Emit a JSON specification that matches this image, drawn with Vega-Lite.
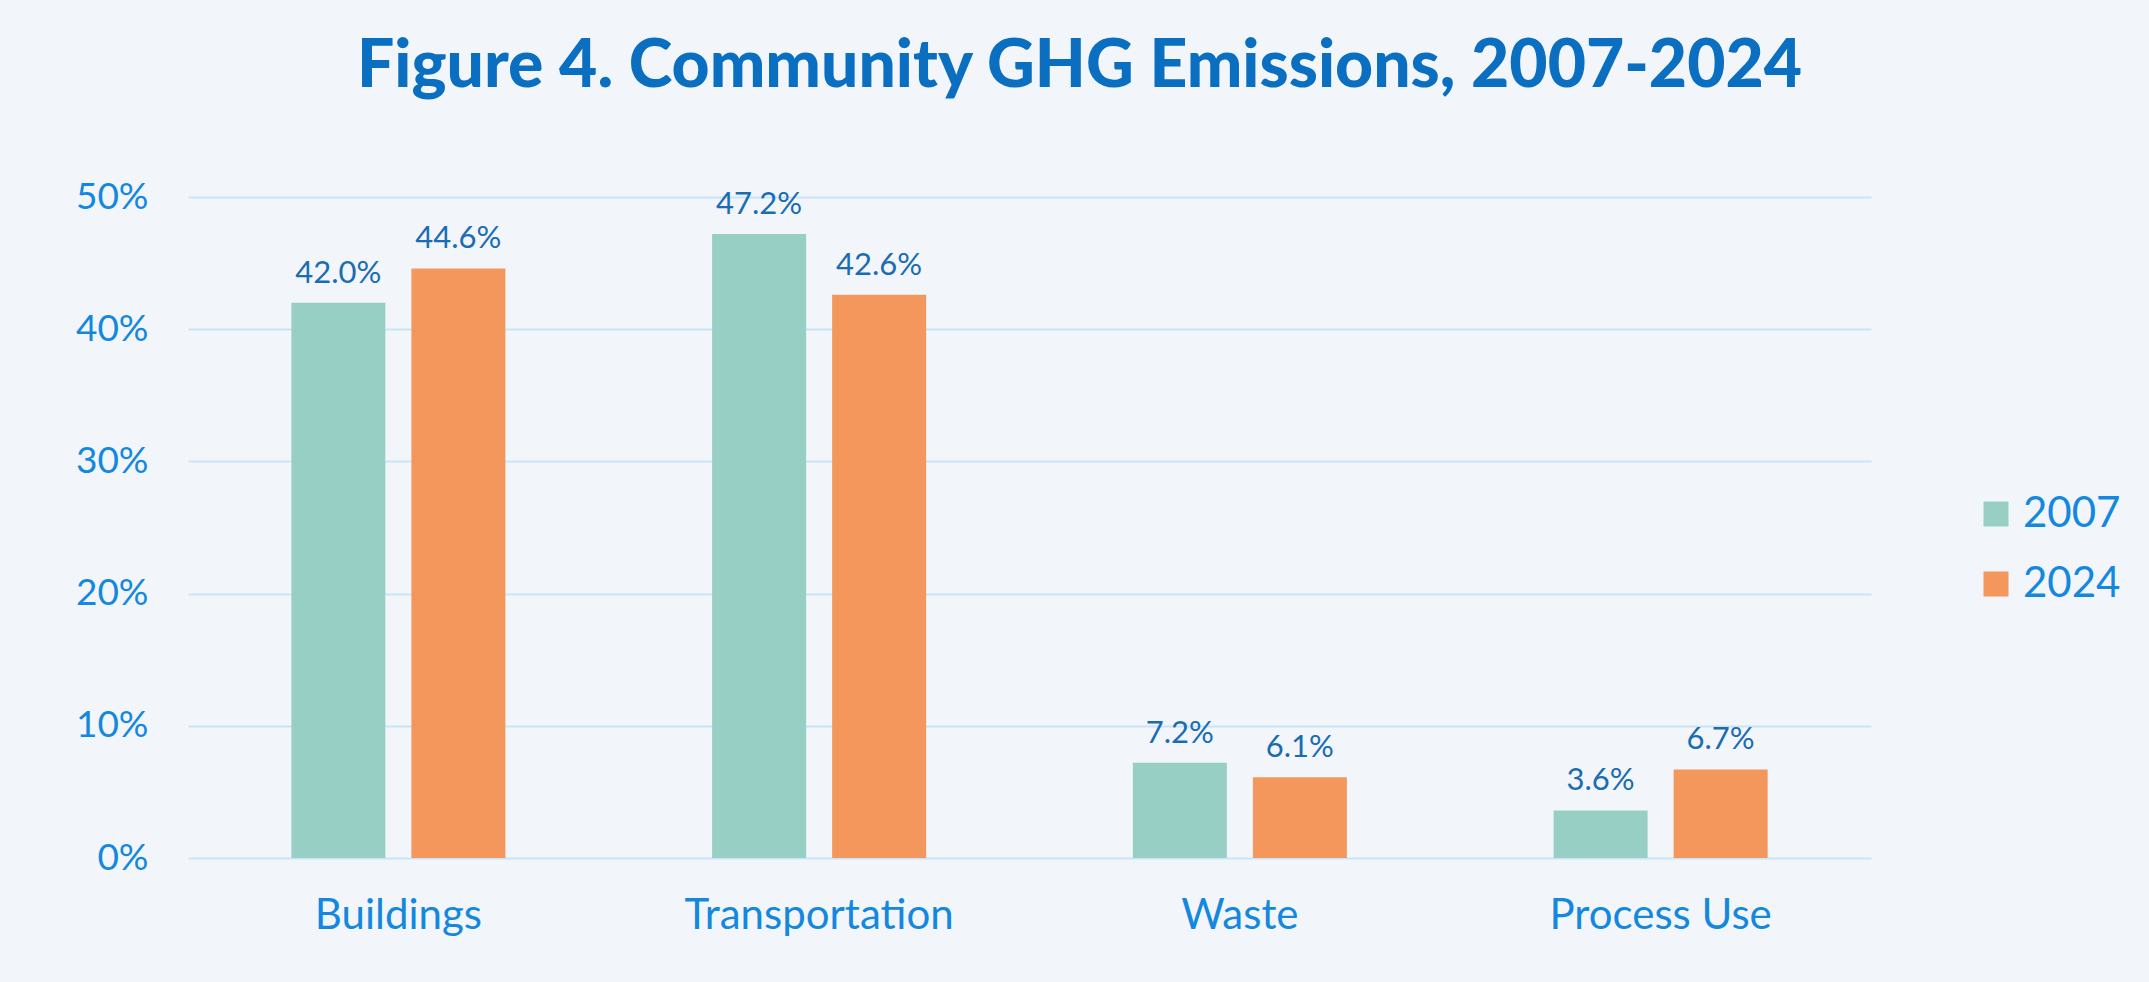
{
  "$schema": "https://vega.github.io/schema/vega-lite/v6.json",
  "width": 1683,
  "height": 661,
  "autosize": {"type": "none"},
  "padding": {"left": 188, "top": 197, "right": 278, "bottom": 124},
  "background": "#F2F6FB",
  "title": {
    "text": "Figure 4. Community GHG Emissions, 2007-2024",
    "font": "Lato",
    "fontSize": 66,
    "fontWeight": 900,
    "color": "#0B6FC1",
    "anchor": "middle",
    "dx": 50,
    "offset": 77
  },
  "data": {
    "values": [
      {"sector": "Buildings", "year": "2007", "share": 0.420},
      {"sector": "Buildings", "year": "2024", "share": 0.446},
      {"sector": "Transportation", "year": "2007", "share": 0.472},
      {"sector": "Transportation", "year": "2024", "share": 0.426},
      {"sector": "Waste", "year": "2007", "share": 0.072},
      {"sector": "Waste", "year": "2024", "share": 0.061},
      {"sector": "Process Use", "year": "2007", "share": 0.036},
      {"sector": "Process Use", "year": "2024", "share": 0.067}
    ]
  },
  "encoding": {
    "x": {
      "field": "sector",
      "type": "nominal",
      "sort": ["Buildings", "Transportation", "Waste", "Process Use"],
      "scale": {"paddingInner": 0, "paddingOuter": 0},
      "axis": {
        "title": null,
        "labelAngle": 0,
        "labelFont": "Lato",
        "labelFontSize": 42,
        "labelColor": "#1488DE",
        "labelPadding": 37,
        "labelLimit": 0,
        "domain": false,
        "ticks": false
      }
    },
    "xOffset": {
      "field": "year",
      "type": "nominal",
      "scale": {"paddingInner": 0.2167, "paddingOuter": 0.861}
    },
    "y": {
      "field": "share",
      "type": "quantitative",
      "scale": {"domain": [0, 0.5]},
      "axis": {
        "title": null,
        "format": ".0%",
        "values": [0, 0.1, 0.2, 0.3, 0.4, 0.5],
        "labelFont": "Lato",
        "labelFontSize": 37,
        "labelColor": "#1488DE",
        "labelPadding": 40,
        "domain": false,
        "ticks": false,
        "gridColor": "#C8E4F7",
        "gridWidth": 2
      }
    }
  },
  "layer": [
    {
      "mark": {"type": "bar"},
      "encoding": {
        "color": {
          "field": "year",
          "type": "nominal",
          "scale": {"domain": ["2007", "2024"], "range": ["#97CFC5", "#F4975D"]},
          "legend": {
            "title": null,
            "orient": "none",
            "legendX": 1787,
            "legendY": 296,
            "symbolType": "square",
            "symbolSize": 625,
            "symbolStrokeWidth": 0,
            "labelFont": "Lato",
            "labelFontSize": 42,
            "labelColor": "#1488DE",
            "rowPadding": 28,
            "labelOffset": 6
          }
        }
      }
    },
    {
      "mark": {
        "type": "text",
        "baseline": "alphabetic",
        "dy": -20,
        "font": "Lato",
        "fontSize": 31,
        "color": "#1A6CB3"
      },
      "encoding": {
        "text": {"field": "share", "type": "quantitative", "format": ".1%"}
      }
    }
  ],
  "config": {
    "view": {"stroke": null}
  }
}
